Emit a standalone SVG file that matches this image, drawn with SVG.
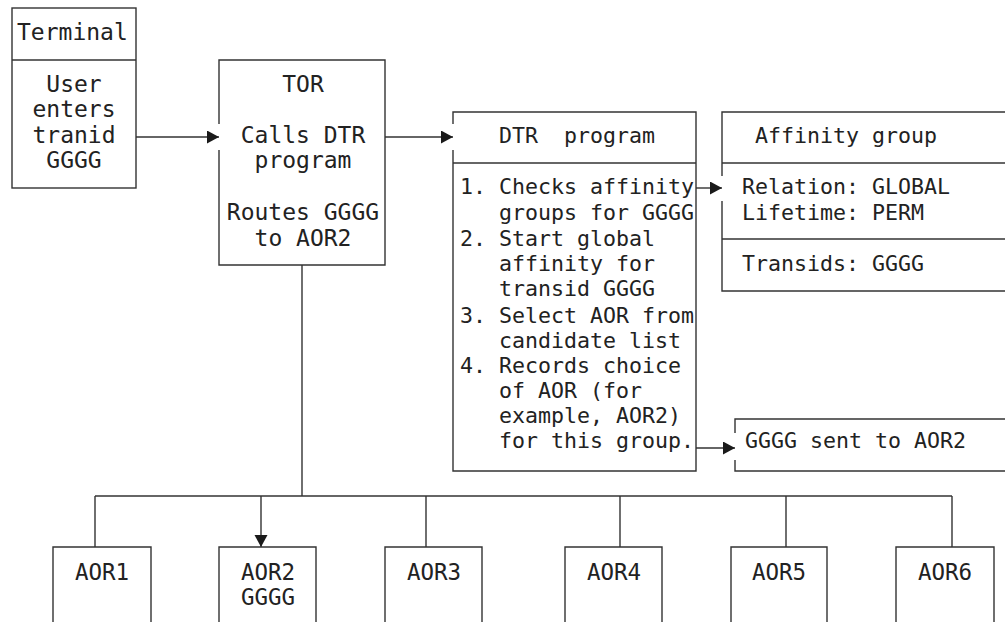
<svg xmlns="http://www.w3.org/2000/svg" width="1005" height="622" viewBox="0 0 1005 622">
<style>
.box{fill:none;stroke:#333;stroke-width:1.4}
.ln{fill:none;stroke:#333;stroke-width:1.4}
text{font-family:"DejaVu Sans Mono","Liberation Mono",monospace;fill:#222}
.l{font-size:23px}
.r{font-size:21.6px}
.a{font-size:22.5px}
.c{text-anchor:middle}
</style>
<defs>
<marker id="ah" markerUnits="userSpaceOnUse" markerWidth="13" markerHeight="14" refX="12" refY="6.5" orient="auto">
<path d="M0,0 L12,6.5 L0,13 z" fill="#1a1a1a"/>
</marker>
</defs>
<rect width="1005" height="622" fill="#fff"/>
<g id="connectors">
<line class="ln" x1="136" y1="137" x2="219" y2="137" marker-end="url(#ah)"/>
<line class="ln" x1="385" y1="137" x2="453" y2="137" marker-end="url(#ah)"/>
<line class="ln" x1="696" y1="188" x2="722" y2="188" marker-end="url(#ah)"/>
<line class="ln" x1="696" y1="448" x2="735" y2="448" marker-end="url(#ah)"/>
<line class="ln" x1="302" y1="265" x2="302" y2="496"/>
<line class="ln" x1="95" y1="496" x2="952" y2="496"/>
<line class="ln" x1="95" y1="496" x2="95" y2="547"/>
<line class="ln" x1="261" y1="496" x2="261" y2="547" marker-end="url(#ah)"/>
<line class="ln" x1="426" y1="496" x2="426" y2="547"/>
<line class="ln" x1="620" y1="496" x2="620" y2="547"/>
<line class="ln" x1="786" y1="496" x2="786" y2="547"/>
<line class="ln" x1="952" y1="496" x2="952" y2="547"/>
</g>
<g id="terminal">
<rect class="box" x="12" y="8" width="124" height="180"/>
<line class="ln" x1="12" y1="60" x2="136" y2="60"/>
<text class="l" x="17" y="40">Terminal</text>
<text class="l c" x="74" y="92">User</text>
<text class="l c" x="74" y="117">enters</text>
<text class="l c" x="74" y="143">tranid</text>
<text class="l c" x="74" y="168">GGGG</text>
</g>
<g id="tor">
<path class="box" d="M219,124 V60 H385 V265 H219 V150"/>
<text class="l c" x="303" y="92">TOR</text>
<text class="l c" x="303" y="143">Calls DTR</text>
<text class="l c" x="303" y="168">program</text>
<text class="l c" x="303" y="220">Routes GGGG</text>
<text class="l c" x="303" y="246">to AOR2</text>
</g>
<g id="dtr">
<path class="box" d="M453,124 V112 H696 V471 H453 V150"/>
<line class="ln" x1="453" y1="163" x2="696" y2="163"/>
<text class="r" x="499" y="143" xml:space="preserve">DTR  program</text>
<text class="r" x="460" y="194">1.</text>
<text class="r" x="499" y="194">Checks affinity</text>
<text class="r" x="499" y="220">groups for GGGG</text>
<text class="r" x="460" y="246">2.</text>
<text class="r" x="499" y="246">Start global</text>
<text class="r" x="499" y="271">affinity for</text>
<text class="r" x="499" y="296">transid GGGG</text>
<text class="r" x="460" y="323">3.</text>
<text class="r" x="499" y="323">Select AOR from</text>
<text class="r" x="499" y="348">candidate list</text>
<text class="r" x="460" y="373">4.</text>
<text class="r" x="499" y="373">Records choice</text>
<text class="r" x="499" y="398">of AOR (for</text>
<text class="r" x="499" y="423">example, AOR2)</text>
<text class="r" x="499" y="448">for this group.</text>
</g>
<g id="affinity">
<path class="box" d="M1005,112 H722 V176 M722,201 V291 H1005"/>
<line class="ln" x1="722" y1="163" x2="1005" y2="163"/>
<line class="ln" x1="722" y1="239" x2="1005" y2="239"/>
<text class="r" x="755" y="143">Affinity group</text>
<text class="r" x="742" y="194">Relation: GLOBAL</text>
<text class="r" x="742" y="220">Lifetime: PERM</text>
<text class="r" x="742" y="271">Transids: GGGG</text>
</g>
<g id="sent">
<path class="box" d="M1005,419 H735 V433 M735,460 V471 H1005"/>
<text class="r" x="745" y="448">GGGG sent to AOR2</text>
</g>
<g id="aor1"><path class="box" d="M53,622 V547 H151 V622"/><text class="a c" x="102" y="580">AOR1</text></g>
<g id="aor2"><path class="box" d="M219,622 V547 H316 V622"/><text class="a c" x="268" y="580">AOR2</text><text class="a c" x="268" y="605">GGGG</text></g>
<g id="aor3"><path class="box" d="M385,622 V547 H482 V622"/><text class="a c" x="434" y="580">AOR3</text></g>
<g id="aor4"><path class="box" d="M565,622 V547 H662 V622"/><text class="a c" x="614" y="580">AOR4</text></g>
<g id="aor5"><path class="box" d="M731,622 V547 H827 V622"/><text class="a c" x="779" y="580">AOR5</text></g>
<g id="aor6"><path class="box" d="M896,622 V547 H994 V622"/><text class="a c" x="945" y="580">AOR6</text></g>
</svg>
